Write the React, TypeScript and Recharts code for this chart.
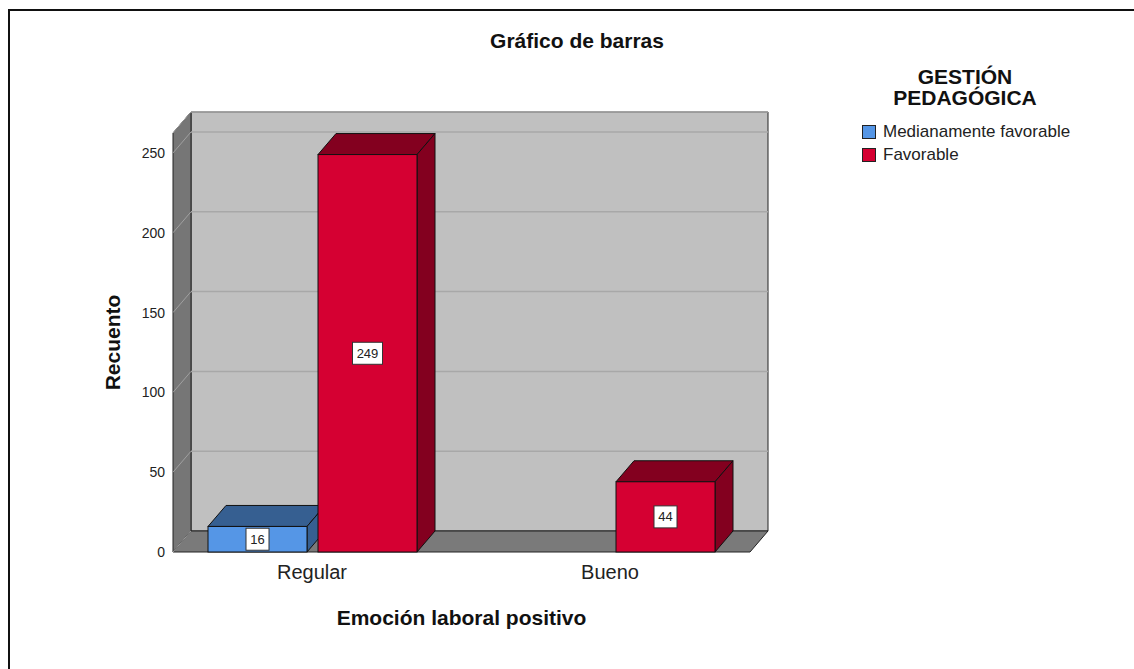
import React from 'react';
import { BarChart, Bar, XAxis, YAxis, CartesianGrid, Legend } from 'recharts';

// ---- data ----
const categories = ['Regular', 'Bueno'];
const medianamenteFavorable: (number | null)[] = [16, null];
const favorable: (number | null)[] = [249, 44];
const yTicks = [0, 50, 100, 150, 200, 250];
const yMax = 262.5;
const seriesNames = ['Medianamente favorable', 'Favorable'];
const legendTitle = ['GESTIÓN', 'PEDAGÓGICA'];
const chartTitle = 'Gráfico de barras';
const xTitle = 'Emoción laboral positivo';
const yTitle = 'Recuento';

// ---- styles ----
const FRONT = ['#5596e6', '#d50032'];
const DARK = ['#365f91', '#83001f'];
const DX = 18;
const DY = 21;
const FONT = '"Liberation Sans", Arial, Helvetica, sans-serif';

const data = categories.map((name, i) => ({
  name,
  med: medianamenteFavorable[i],
  fav: favorable[i],
}));

const bar3D = (si: number) => (props: any) => {
  const { x, y, width, height, value } = props;
  const v = Array.isArray(value) ? value[1] : value;
  if (v == null || !(height > 0) || !isFinite(x) || !isFinite(y)) return <g />;
  const w = width;
  const h = height;
  const top = `M${x},${y} L${x + DX},${y - DY} L${x + w + DX},${y - DY} L${x + w},${y} Z`;
  const side = `M${x + w},${y} L${x + w + DX},${y - DY} L${x + w + DX},${y + h - DY} L${x + w},${y + h} Z`;
  const s = String(v);
  const bw = s.length * 7 + 9;
  const bh = 22;
  const cx = x + w / 2;
  const cy = y + h / 2;
  return (
    <g>
      <path d={top} fill={DARK[si]} stroke="#111" strokeWidth={1} strokeLinejoin="round" />
      <path d={side} fill={DARK[si]} stroke="#111" strokeWidth={1} strokeLinejoin="round" />
      <rect x={x} y={y} width={w} height={h} fill={FRONT[si]} stroke="#111" strokeWidth={1} />
      <rect x={cx - bw / 2} y={cy - bh / 2} width={bw} height={bh} fill="#fff" stroke="#333" strokeWidth={1} />
      <text x={cx} y={cy} textAnchor="middle" dominantBaseline="central" fontSize={13} fontFamily={FONT} fill="#222">
        {s}
      </text>
    </g>
  );
};

const gridLine = (p: any) => {
  const { x, y, width, height, y1, index } = p;
  const bottom = y + height;
  const walls =
    index === 0 ? (
      <g>
        <path
          d={`M${x + DX},${y - DY} L${x + width + DX},${y - DY} L${x + width + DX},${bottom - DY} L${x + DX},${bottom - DY} Z`}
          fill="#c0c0c0"
          stroke="#222"
          strokeWidth={1}
        />
        <path
          d={`M${x},${y} L${x + DX},${y - DY} L${x + DX},${bottom - DY} L${x},${bottom} Z`}
          fill="#767676"
          stroke="#222"
          strokeWidth={1}
        />
        <path
          d={`M${x},${bottom} L${x + DX},${bottom - DY} L${x + width + DX},${bottom - DY} L${x + width},${bottom} Z`}
          fill="#7a7a7a"
          stroke="#222"
          strokeWidth={1}
        />
      </g>
    ) : null;
  const isBottom = y1 >= bottom - 0.5;
  return (
    <g key={`grid-${index}`}>
      {walls}
      <line x1={x} y1={y1} x2={x + DX} y2={y1 - DY} stroke="#a0a0a0" strokeWidth={1} />
      {!isBottom && (
        <line x1={x + DX} y1={y1 - DY} x2={x + width + DX} y2={y1 - DY} stroke="#a8a8a8" strokeWidth={1.5} />
      )}
    </g>
  );
};

const LegendContent = () => (
  <div style={{ fontFamily: FONT, color: '#111' }}>
    <div style={{ textAlign: 'center', fontWeight: 'bold', fontSize: 21, lineHeight: '21px' }}>
      {legendTitle.map((t) => (
        <div key={t}>{t}</div>
      ))}
    </div>
    <div style={{ marginTop: 12, paddingLeft: 12 }}>
      {seriesNames.map((n, i) => (
        <div key={n} style={{ display: 'flex', alignItems: 'center', height: 23 }}>
          <span
            style={{
              display: 'inline-block',
              width: 12,
              height: 12,
              background: FRONT[i],
              border: '1px solid #222',
              marginRight: 7,
            }}
          />
          <span style={{ fontSize: 17, color: '#222' }}>{n}</span>
        </div>
      ))}
    </div>
  </div>
);

export default function App() {
  return (
    <div
      style={{
        position: 'absolute',
        left: 0,
        top: 0,
        width: 1134,
        height: 669,
        background: '#fff',
        fontFamily: FONT,
        overflow: 'hidden',
      }}
    >
      <div
        style={{
          position: 'absolute',
          left: 8,
          top: 9,
          width: 1140,
          height: 700,
          borderLeft: '2px solid #111',
          borderTop: '2px solid #111',
        }}
      />
      <div
        style={{
          position: 'absolute',
          left: 377,
          top: 30,
          width: 400,
          textAlign: 'center',
          fontWeight: 'bold',
          fontSize: 21,
          lineHeight: '22px',
          color: '#111',
        }}
      >
        {chartTitle}
      </div>
      <div style={{ position: 'absolute', left: 0, top: 0 }}>
        <BarChart
          width={1134}
          height={669}
          data={data}
          margin={{ top: 133, right: 384, bottom: 30, left: 103 }}
          barSize={99}
          barGap={11}
        >
          <CartesianGrid vertical={false} horizontal={gridLine as any} />
          <XAxis
            dataKey="name"
            padding={{ left: -10, right: -9 }}
            axisLine={false}
            tickLine={false}
            tickMargin={7}
            height={87}
            tick={{ fontSize: 20, fill: '#222', fontFamily: FONT }}
            label={{
              value: xTitle,
              position: 'insideBottom',
              offset: 14,
              fill: '#111',
              fontSize: 21,
              fontWeight: 'bold',
              fontFamily: FONT,
            }}
          />
          <YAxis
            width={70}
            domain={[0, yMax]}
            ticks={yTicks}
            axisLine={false}
            tickLine={false}
            tick={{ fontSize: 14, fill: '#222', fontFamily: FONT }}
            label={{
              value: yTitle,
              angle: -90,
              position: 'insideLeft',
              offset: 10,
              style: { textAnchor: 'middle' },
              fill: '#111',
              fontSize: 21,
              fontWeight: 'bold',
              fontFamily: FONT,
            }}
          />
          <Legend
            layout="vertical"
            align="center"
            verticalAlign="middle"
            wrapperStyle={{ left: 850, top: 66, width: 230 }}
            content={() => <LegendContent />}
          />
          <Bar dataKey="med" name={seriesNames[0]} fill={FRONT[0]} shape={bar3D(0)} isAnimationActive={false} />
          <Bar dataKey="fav" name={seriesNames[1]} fill={FRONT[1]} shape={bar3D(1)} isAnimationActive={false} />
        </BarChart>
      </div>
    </div>
  );
}
